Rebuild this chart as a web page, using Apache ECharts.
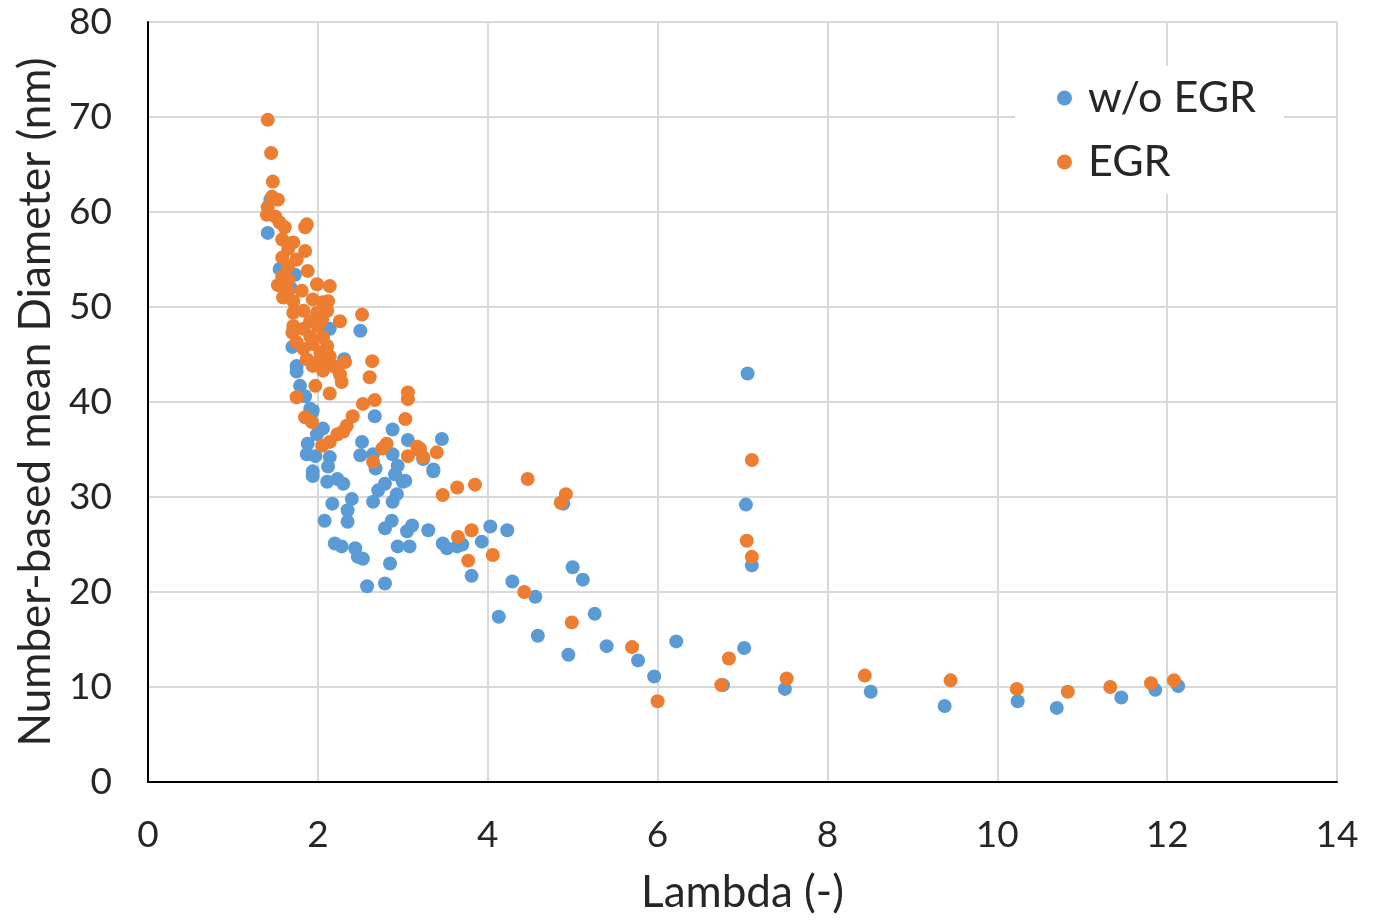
<!DOCTYPE html>
<html>
<head>
<meta charset="utf-8">
<script src="https://cdn.jsdelivr.net/npm/echarts@6/dist/echarts.min.js"></script>
<style>
  html, body { margin: 0; padding: 0; background: #fff; }
  #chart { width: 1381px; height: 920px; }
</style>
</head>
<body>
<div id="chart"></div>
<script>
// Lambda (-) vs number-based mean diameter (nm)
const seriesNames = ['w/o EGR', 'EGR'];
const xTicks = [0, 2, 4, 6, 8, 10, 12, 14];
const yTicks = [0, 10, 20, 30, 40, 50, 60, 70, 80];

const withoutEGR = [
  [1.41,57.8],[1.44,61.3],[1.55,54.0],[1.73,53.4],[1.68,52.0],
  [2.14,47.7],[2.50,47.5],[1.70,45.8],[1.75,43.8],[1.75,43.2],[1.79,41.7],[1.85,40.6],
  [2.31,44.5],[1.91,39.3],[1.93,38.9],[2.67,38.5],
  [1.94,39.1],[2.06,37.2],[1.99,36.6],[1.88,35.6],[1.87,34.5],[1.97,34.3],[2.14,34.2],
  [2.12,33.2],[1.94,32.7],[2.52,35.8],[2.50,34.4],
  [2.88,37.1],[3.06,36.0],[3.46,36.1],[2.65,34.5],[2.88,34.5],[2.94,33.3],[2.91,32.4],
  [3.03,31.7],[3.36,32.9],[3.20,34.9],[2.68,33.0],
  [1.94,32.2],[2.11,31.6],[2.23,31.9],[2.30,31.4],[2.17,29.3],[2.40,29.8],[2.35,28.6],
  [2.35,27.4],[2.08,27.5],[2.20,25.1],[2.28,24.8],[2.44,24.6],[2.47,23.7],[2.53,23.5],
  [2.85,23.0],[2.58,20.6],[2.79,20.9],[2.65,29.5],[2.79,31.4],[2.71,30.7],[2.88,29.5],
  [2.93,30.3],[3.00,31.6],[2.87,27.5],[2.79,26.7],[3.11,27.0],[3.05,26.4],[2.94,24.8],
  [3.08,24.8],[3.30,26.5],
  [3.24,34.0],[3.36,32.7],[3.47,25.1],[3.52,24.6],[3.64,24.8],[3.70,25.0],[4.03,26.9],
  [4.23,26.5],[3.93,25.3],[3.81,21.7],[4.29,21.1],[4.56,19.5],[4.13,17.4],[4.59,15.4],
  [5.00,22.6],[5.12,21.3],[4.89,29.3],[5.26,17.7],
  [4.95,13.4],[5.40,14.3],[5.77,12.8],[5.96,11.1],[6.22,14.8],[7.02,14.1],[6.77,10.2],
  [7.06,43.0],[7.04,29.2],[7.11,22.8],[7.50,9.8],[8.51,9.5],[9.38,8.0],[10.24,8.5],
  [10.70,7.8],[11.46,8.9],[11.86,9.7],[12.13,10.1]
];

const withEGR = [
  [1.41,69.7],[1.45,66.2],[1.47,63.2],[1.46,61.6],[1.53,61.3],[1.41,60.5],[1.40,59.7],
  [1.50,59.5],[1.55,58.9],[1.61,58.4],[1.87,58.7],[1.85,58.4],[1.58,57.1],[1.71,56.8],
  [1.85,55.9],[1.65,56.1],[1.58,55.2],[1.75,55.0],[1.65,54.3],[1.88,53.8],[1.58,53.2],
  [1.65,52.9],[1.53,52.3],[1.65,51.7],[1.99,52.4],[2.14,52.2],[1.81,51.7],[1.59,51.0],
  [1.71,50.6],[1.94,50.8],[2.06,50.5],[2.12,50.6],[1.71,49.4],[1.83,49.6],[1.99,49.4],
  [2.11,49.6],[2.52,49.2],[1.91,48.5],[2.05,48.7],[2.26,48.5],[1.71,48.0],[1.83,47.7],
  [2.00,48.0],[1.70,47.3],[1.91,46.9],[2.06,46.8],[1.75,46.3],[1.94,46.1],[2.11,45.9],
  [1.83,45.6],[2.03,45.2],[2.14,44.8],[1.87,44.5],[1.99,44.2],[2.12,44.0],[2.20,43.7],
  [2.64,44.3],[2.32,44.2],[1.94,43.8],[2.06,43.3],[2.26,42.9],[2.61,42.6],[2.28,42.1],
  [1.97,41.7],[2.14,40.9],[1.75,40.5],[3.06,41.0],[3.06,40.3],[2.53,39.8],[2.67,40.2],
  [1.85,38.4],[1.93,37.9],[3.03,38.2],[2.41,38.5],[2.34,37.5],[2.30,36.9],[2.23,36.6],
  [2.14,35.8],[2.05,35.4],[2.81,35.6],[2.76,35.1],[2.65,33.7],[3.17,35.3],[3.06,34.3],
  [3.24,34.2],[3.40,34.7],
  [3.20,35.1],[3.47,30.2],[3.64,31.0],[3.85,31.3],[4.47,31.9],[4.92,30.3],[4.86,29.4],
  [3.65,25.8],[3.81,26.5],[3.77,23.3],[4.06,23.9],[4.43,20.0],[4.99,16.8],[5.70,14.2],
  [7.11,33.9],[7.05,25.4],[7.11,23.7],[6.84,13.0],[6.75,10.2],[6.00,8.5],[7.52,10.9],
  [8.44,11.2],[9.45,10.7],[10.23,9.8],[10.83,9.5],[11.33,10.0],[11.81,10.4],[12.08,10.7]
];

const FONT = 'Lato, "Open Sans", sans-serif';
const chart = echarts.init(document.getElementById('chart'), null, { renderer: 'canvas' });

chart.setOption({
  animation: false,
  backgroundColor: '#ffffff',
  textStyle: { fontFamily: FONT },
  grid: { left: 148, right: 44, top: 22, bottom: 136, containLabel: false },
  legend: {
    data: seriesNames,
    orient: 'vertical',
    left: 1015,
    top: 66,
    backgroundColor: '#ffffff',
    padding: [10, 28, 10, 42],
    itemWidth: 15,
    itemHeight: 15,
    itemGap: 20,
    icon: 'circle',
    textStyle: { fontSize: 43, color: '#262626', fontFamily: FONT, lineHeight: 44, padding: [0, 0, 0, 11] }
  },
  xAxis: {
    type: 'value',
    min: xTicks[0],
    max: xTicks[xTicks.length - 1],
    interval: 2,
    name: 'Lambda (-)',
    nameLocation: 'middle',
    nameGap: 89,
    nameTextStyle: { fontSize: 44, color: '#262626', fontFamily: FONT },
    axisLine: { show: true, lineStyle: { color: '#000000', width: 2 } },
    axisTick: { show: false },
    axisLabel: { fontSize: 37, color: '#262626', margin: 35, fontFamily: FONT },
    splitLine: { show: true, lineStyle: { color: '#d9d9d9', width: 2 } }
  },
  yAxis: {
    type: 'value',
    min: yTicks[0],
    max: yTicks[yTicks.length - 1],
    interval: 10,
    name: 'Number-based mean Diameter (nm)',
    nameLocation: 'middle',
    nameGap: 84,
    nameRotate: 90,
    nameTextStyle: { fontSize: 44, color: '#262626', fontFamily: FONT },
    axisLine: { show: true, lineStyle: { color: '#000000', width: 2 } },
    axisTick: { show: false },
    axisLabel: { fontSize: 37, color: '#262626', margin: 36, fontFamily: FONT },
    splitLine: { show: true, lineStyle: { color: '#d9d9d9', width: 2 } }
  },
  series: [
    {
      name: seriesNames[0],
      type: 'scatter',
      data: withoutEGR,
      symbol: 'circle',
      symbolSize: 14,
      itemStyle: { color: '#5B9BD5', opacity: 1 }
    },
    {
      name: seriesNames[1],
      type: 'scatter',
      data: withEGR,
      symbol: 'circle',
      symbolSize: 14,
      itemStyle: { color: '#ED7D31', opacity: 1 }
    }
  ]
});
</script>
</body>
</html>
